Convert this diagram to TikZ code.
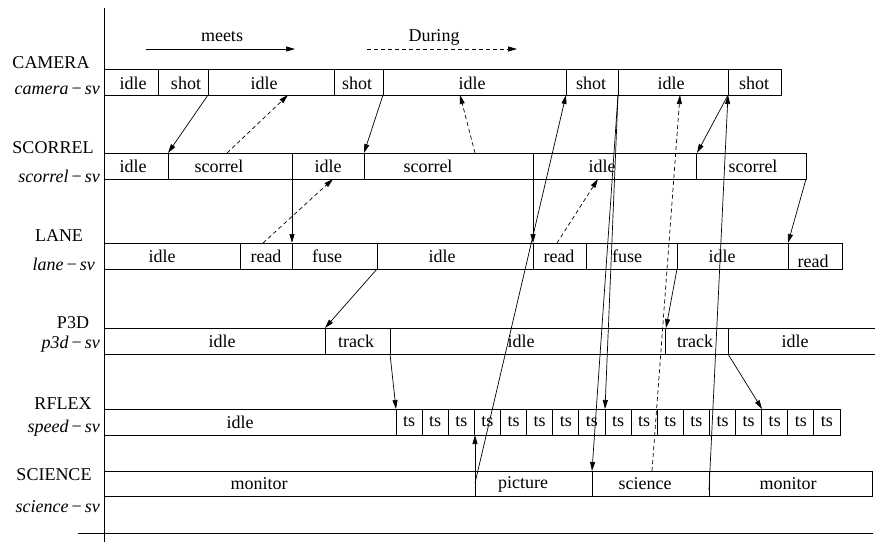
\documentclass[tikz,border=0pt]{standalone}
\usepackage{fontspec}
\setmainfont{Liberation Serif}
\usetikzlibrary{arrows.meta}
\newcommand{\svname}[1]{\textit{#1}\,−\,\textit{sv}}

\begin{document}
\begin{tikzpicture}[x=1pt, y=-1pt,
        every node/.style={font=\fontsize{18}{20}\selectfont, inner sep=0pt},
        seg/.style={line width=0.9pt},
        link/.style={line width=0.7pt, -{Triangle[length=9pt, width=5pt]}},
        wait/.style={link, dash pattern=on 4pt off 3pt}]
            \useasboundingbox (0, 0) rectangle (875, 542);

            \draw[seg] (104, 8) -- (104, 542);
            \draw[seg] (78, 533) -- (873, 533);

            \node (meets) at (222, 37) {meets};
            \node (during) at (434, 37) {During};
            \coordinate (meetsA) at (146, 49);
            \coordinate (meetsB) at (295, 49);
            \coordinate (duringA) at (367, 49);
            \coordinate (duringB) at (517, 49);
            \draw[link] (meetsA) -- (meetsB);
            \draw[wait] (duringA) -- (duringB);

            \node (camera) at (51, 63) {CAMERA};
            \node[anchor=east] (camerasv) at (100, 90) {\svname{camera}};
            \node (scorrel) at (53, 148) {SCORREL};
            \node[anchor=east] (scorrelsv) at (100, 176) {\svname{scorrel}};
            \node (lane) at (59, 236) {LANE};
            \node[anchor=east] (lanesv) at (95, 264) {\svname{lane}};
            \node (ptd) at (73, 323) {P3D};
            \node[anchor=east] (ptdsv) at (100, 344) {\svname{p3d}};
            \node (rflex) at (63, 404) {RFLEX};
            \node[anchor=east] (speedsv) at (100, 428) {\svname{speed}};
            \node (science) at (54, 475) {SCIENCE};
            \node[anchor=east] (sciencesv) at (100, 507) {\svname{science}};

            \foreach \a/\b/\lx/\word in {104/158/133/idle, 158/208/186/shot, 208/334/264/idle, 334/383/357/shot,
                    383/566/472/idle, 566/618/591/shot, 618/728/671/idle, 728/781/754/shot} {
                \draw[seg] (\a, 69) rectangle (\b, 95);
                \node (cam\a) at (\lx, 83) {\word};
            }

            \foreach \a/\b/\lx/\word in {104/168/133/idle, 168/292/219/scorrel, 292/364/328/idle,
                    364/533/428/scorrel, 533/696/602/idle, 696/806/753/scorrel} {
                \draw[seg] (\a, 153) rectangle (\b, 179);
                \node (sco\a) at (\lx, 166) {\word};
            }

            \foreach \a/\b/\lx/\word in {104/240/162/idle, 240/292/266/read, 292/377/327/fuse, 377/533/442/idle,
                    533/586/559/read, 586/677/627/fuse, 677/788/722/idle} {
                \draw[seg] (\a, 243) rectangle (\b, 269);
                \node (lan\a) at (\lx, 256) {\word};
            }
            \draw[seg] (788, 243) rectangle (842, 269);
            \node (lan788) at (813, 261) {read};

            \foreach \a/\b/\lx/\word in {104/325/222/idle, 325/390/356/track, 390/665/521/idle,
                    665/728/695/track, 728/880/795/idle} {
                \draw[seg] (\a, 328) rectangle (\b, 354);
                \node (ptd\a) at (\lx, 341) {\word};
            }

            \draw[seg] (104, 409) rectangle (396, 435);
            \node (rfl104) at (240, 422) {idle};
            \foreach \i in {0,...,16} {
                \draw[seg] ({396+26.12*\i}, 409) rectangle ({396+26.12*(\i+1)}, 435);
                \node (rflts\i) at ({396+26.12*(\i+0.5)}, 422) {ts};
            }

            \foreach \a/\b/\lx/\word in {104/475/259/monitor, 475/592/523/picture, 592/709/645/science,
                    709/872/788/monitor} {
                \draw[seg] (\a, 471) rectangle (\b, 496);
                \node (sci\a) at (\lx, 484) {\word};
            }

            \foreach \x in {208,288,383,460,566,618,680,728}
                \coordinate (camB\x) at (\x, 95);
            \foreach \x in {168,227,364,475,697}
                \coordinate (scoT\x) at (\x, 153);
            \foreach \x in {292,333,533,598,806}
                \coordinate (scoB\x) at (\x, 179);
            \foreach \x in {263,292,533,557,788}
                \coordinate (lanT\x) at (\x, 243);
            \foreach \x in {377,677}
                \coordinate (lanB\x) at (\x, 269);
            \foreach \x in {325,666}
                \coordinate (ptdT\x) at (\x, 328);
            \foreach \x in {390,728}
                \coordinate (ptdB\x) at (\x, 354);
            \foreach \x in {396,605,762}
                \coordinate (rflT\x) at (\x, 409);
            \coordinate (rflB475) at (475, 435);
            \foreach \x in {475,592,652}
                \coordinate (sciT\x) at (\x, 471);
            \coordinate (sciM475) at (475, 483);
            \coordinate (sciM709) at (709, 490);

            \draw[link] (camB208) -- (scoT168);
            \draw[wait] (scoT227) -- (camB288);
            \draw[link] (camB383) -- (scoT364);
            \draw[wait] (scoT475) -- (camB460);
            \draw[link] (sciM475) -- (camB566);
            \draw[link] (camB618) -- (sciT592);
            \draw[link] (camB618) -- (rflT605);
            \draw[wait] (sciT652) -- (camB680);
            \draw[link] (camB728) -- (scoT697);
            \draw[link] (sciM709) -- (camB728);

            \draw[wait] (lanT263) -- (scoB333);
            \draw[link] (scoB292) -- (lanT292);
            \draw[link] (scoB533) -- (lanT533);
            \draw[wait] (lanT557) -- (scoB598);
            \draw[link] (scoB806) -- (lanT788);

            \draw[link] (lanB377) -- (ptdT325);
            \draw[link] (lanB677) -- (ptdT666);
            \draw[link] (ptdB390) -- (rflT396);
            \draw[link] (ptdB728) -- (rflT762);
            \draw[link] (sciT475) -- (rflB475);
\end{tikzpicture}
\end{document}
